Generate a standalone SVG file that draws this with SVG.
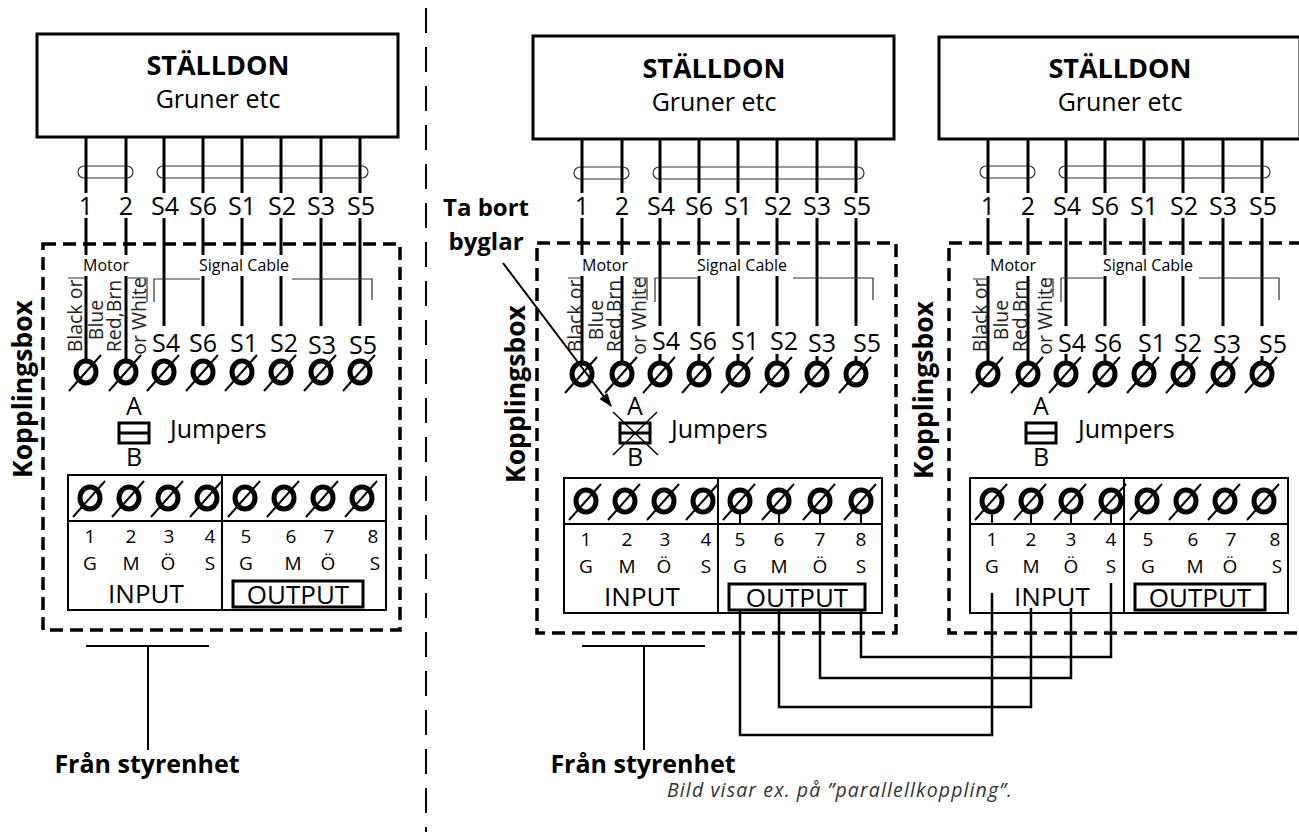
<svg xmlns="http://www.w3.org/2000/svg" width="1299" height="832" viewBox="0 0 1299 832">
<style>
text{font-family:"Open Sans",Lato,"DejaVu Sans",sans-serif;fill:#000}
.t25{font-size:25px}
.t27{font-size:27px}
.c{text-anchor:middle}
.b{font-weight:bold}
.box{fill:#fff;stroke:#000;stroke-width:3}
.w{fill:none;stroke:#000;stroke-width:3}
.thin{fill:none;stroke:#333;stroke-width:1.2}
.dash{fill:none;stroke:#000;stroke-width:3.5;stroke-dasharray:13 7}
.blk{fill:#fff;stroke:#000;stroke-width:2}
.ln{fill:none;stroke:#000;stroke-width:2}
.ob{fill:none;stroke:#000;stroke-width:3}
.rot{font-size:19.5px;text-anchor:middle;fill:#222}
.small{font-size:16px;text-anchor:middle}
.num{font-size:19px;text-anchor:middle}
.io{font-size:26px;text-anchor:middle}
.wire{fill:none;stroke:#000;stroke-width:2.5}
.sep{fill:none;stroke:#000;stroke-width:2;stroke-dasharray:25 14}
.kb{font-size:26.5px;font-weight:bold;text-anchor:middle}
.note{font-size:24px;font-weight:bold;text-anchor:middle}
.cap{font-size:19.5px;font-style:italic;fill:#333}
</style>
<defs>
<g id="term"><ellipse rx="10" ry="11" fill="none" stroke="#000" stroke-width="5"/><line x1="-17" y1="19" x2="15" y2="-17" stroke="#000" stroke-width="2"/></g>
<marker id="ah" viewBox="0 0 10 10" refX="9" refY="5" markerWidth="7" markerHeight="7" orient="auto" markerUnits="strokeWidth"><path d="M0 1.5L10 5L0 8.5z" fill="#000"/></marker>
</defs>

<line class="sep" x1="426" y1="8" x2="426" y2="832"/>

<!-- LEFT PANEL -->
<g id="panel-left">
<g id="actuator-1"><rect class="box" x="37" y="34" width="361" height="103"/><text class="t27 c b" x="218" y="75">STÄLLDON</text><text class="t25 c" x="218" y="108">Gruner etc</text></g>
<g id="cable-1">
<rect class="thin" x="78" y="166" width="55" height="12" rx="6"/>
<rect class="thin" x="157" y="166" width="211" height="12" rx="6"/>
<path class="w" d="M86 137V193M86 218V255M86 276V360M126 137V193M126 218V255M126 276V360M164 137V193M164 218V326M203 137V193M203 218V255M203 276V326M242 137V193M242 218V255M242 276V326M281 137V193M281 218V255M281 276V326M321 137V193M321 218V326M360 137V193M360 218V326"/>
<text class="t25 c" x="86" y="215">1</text><text class="t25 c" x="126" y="215">2</text><text class="t25 c" x="165" y="215">S4</text><text class="t25 c" x="203" y="215">S6</text><text class="t25 c" x="242" y="215">S1</text><text class="t25 c" x="282" y="215">S2</text><text class="t25 c" x="321" y="215">S3</text><text class="t25 c" x="361" y="215">S5</text>
</g>
<g id="kopplingsbox-1">
<rect class="dash" x="43" y="244" width="357" height="386"/>
<text class="kb" transform="translate(32,389) rotate(-90)">Kopplingsbox</text>
<text class="small" x="106" y="271">Motor</text>
<text class="small" x="244" y="271">Signal Cable</text>
<path class="thin" d="M68 278H86M128 278H147V302M154 302V279H200M292 279H372V300"/>
<text class="rot" transform="translate(82,316) rotate(-90)">Black or</text>
<text class="rot" transform="translate(103,320) rotate(-90)">Blue</text>
<text class="rot" transform="translate(121,316) rotate(-90)">Red,Brn</text>
<text class="rot" transform="translate(146,316) rotate(-90)">or White</text>
<text class="t25 c" x="166" y="352">S4</text><text class="t25 c" x="203" y="352">S6</text><text class="t25 c" x="244" y="352">S1</text><text class="t25 c" x="284" y="352">S2</text><text class="t25 c" x="322" y="354">S3</text><text class="t25 c" x="363" y="354">S5</text>
<use href="#term" x="86" y="372"/><use href="#term" x="126" y="372"/><use href="#term" x="164" y="372"/><use href="#term" x="203" y="372"/><use href="#term" x="242" y="372"/><use href="#term" x="281" y="372"/><use href="#term" x="321" y="372"/><use href="#term" x="360" y="372"/>
<g id="jumper-1">
<text class="t25 c" x="134" y="415">A</text>
<rect x="119" y="423" width="30" height="20" fill="#fff" stroke="#000" stroke-width="3"/><line x1="119" y1="433" x2="149" y2="433" stroke="#000" stroke-width="3"/>
<text class="t25 c" x="134" y="466">B</text>
<text class="t25" x="170" y="438">Jumpers</text>
</g>
<g id="block-1">
<rect class="blk" x="68" y="475" width="318" height="135"/>
<path class="ln" d="M222 475V610M68 521H386"/>
<use href="#term" x="90" y="498"/><use href="#term" x="129" y="498"/><use href="#term" x="168" y="498"/><use href="#term" x="207" y="498"/><use href="#term" x="245" y="498"/><use href="#term" x="284" y="498"/><use href="#term" x="323" y="498"/><use href="#term" x="362" y="498"/>
<text class="num" x="90" y="543">1</text><text class="num" x="131" y="543">2</text><text class="num" x="169" y="543">3</text><text class="num" x="210" y="543">4</text><text class="num" x="246" y="543">5</text><text class="num" x="291" y="543">6</text><text class="num" x="329" y="543">7</text><text class="num" x="373" y="543">8</text>
<text class="num" x="90" y="570">G</text><text class="num" x="131" y="570">M</text><text class="num" x="168" y="570">Ö</text><text class="num" x="210" y="570">S</text><text class="num" x="246" y="570">G</text><text class="num" x="293" y="570">M</text><text class="num" x="328" y="570">Ö</text><text class="num" x="375" y="570">S</text>
<text class="io" x="146" y="603">INPUT</text>
<rect class="ob" x="233" y="581" width="130" height="26"/>
<text class="io" x="298" y="604">OUTPUT</text>
</g>
</g>
<g id="from-1">
<path class="ln" d="M86 646H209M148 646V750"/>
<text class="t25 c b" x="147" y="773">Från styrenhet</text>
</g>
</g>

<!-- MIDDLE PANEL -->
<g id="panel-middle" transform="translate(496,0)">
<g id="actuator-2"><rect class="box" x="37" y="36" width="361" height="103"/><text class="t27 c b" x="218" y="78">STÄLLDON</text><text class="t25 c" x="218" y="111">Gruner etc</text></g>
<g id="cable-2">
<rect class="thin" x="78" y="167" width="55" height="12" rx="6"/>
<rect class="thin" x="157" y="167" width="211" height="12" rx="6"/>
<path class="w" d="M86 139V193M86 218V255M86 276V362M126 139V193M126 218V255M126 276V362M164 139V193M164 218V326M203 139V193M203 218V255M203 276V326M242 139V193M242 218V255M242 276V326M281 139V193M281 218V255M281 276V326M321 139V193M321 218V326M360 139V193M360 218V326M164 354V363M203 354V363M242 354V363M281 354V363M321 356V363M360 356V363"/>
<text class="t25 c" x="86" y="215">1</text><text class="t25 c" x="126" y="215">2</text><text class="t25 c" x="165" y="215">S4</text><text class="t25 c" x="203" y="215">S6</text><text class="t25 c" x="242" y="215">S1</text><text class="t25 c" x="282" y="215">S2</text><text class="t25 c" x="321" y="215">S3</text><text class="t25 c" x="361" y="215">S5</text>
</g>
<g id="kopplingsbox-2">
<rect class="dash" x="41" y="243" width="359" height="390"/>
<text class="kb" transform="translate(29,394) rotate(-90)">Kopplingsbox</text>
<text class="small" x="109" y="271">Motor</text>
<text class="small" x="246" y="271">Signal Cable</text>
<path class="thin" d="M72 278H86M137 278H151V300M159 302V278H201M297 278H377V300"/>
<text class="rot" transform="translate(86,316) rotate(-90)">Black or</text>
<text class="rot" transform="translate(107,320) rotate(-90)">Blue</text>
<text class="rot" transform="translate(125,316) rotate(-90)">Red,Brn</text>
<text class="rot" transform="translate(150,316) rotate(-90)">or White</text>
<text class="t25 c" x="170" y="350">S4</text><text class="t25 c" x="207" y="350">S6</text><text class="t25 c" x="249" y="350">S1</text><text class="t25 c" x="288" y="350">S2</text><text class="t25 c" x="326" y="352">S3</text><text class="t25 c" x="371" y="352">S5</text>
<use href="#term" x="86" y="374"/><use href="#term" x="126" y="374"/><use href="#term" x="164" y="374"/><use href="#term" x="203" y="374"/><use href="#term" x="242" y="374"/><use href="#term" x="281" y="374"/><use href="#term" x="321" y="374"/><use href="#term" x="360" y="374"/>
<g id="jumper-2">
<text class="t25 c" x="139" y="415">A</text>
<rect x="124" y="423" width="30" height="20" fill="#fff" stroke="#000" stroke-width="3"/><line x1="124" y1="433" x2="154" y2="433" stroke="#000" stroke-width="3"/>
<text class="t25 c" x="139" y="466">B</text>
<text class="t25" x="175" y="438">Jumpers</text>
<path d="M117 412L162 455M161 412L117 455" fill="none" stroke="#000" stroke-width="1.5"/>
</g>
<g id="block-2" transform="translate(0,3)">
<rect class="blk" x="68" y="475" width="318" height="135"/>
<path class="ln" d="M222 475V610M68 521H386M244 510V521M283 510V521M324 510V521M365 510V521"/>
<use href="#term" x="90" y="498"/><use href="#term" x="129" y="498"/><use href="#term" x="168" y="498"/><use href="#term" x="207" y="498"/><use href="#term" x="244" y="498"/><use href="#term" x="283" y="498"/><use href="#term" x="324" y="498"/><use href="#term" x="365" y="498"/>
<text class="num" x="90" y="543">1</text><text class="num" x="131" y="543">2</text><text class="num" x="169" y="543">3</text><text class="num" x="210" y="543">4</text><text class="num" x="244" y="543">5</text><text class="num" x="283" y="543">6</text><text class="num" x="324" y="543">7</text><text class="num" x="365" y="543">8</text>
<text class="num" x="90" y="570">G</text><text class="num" x="131" y="570">M</text><text class="num" x="168" y="570">Ö</text><text class="num" x="210" y="570">S</text><text class="num" x="244" y="570">G</text><text class="num" x="283" y="570">M</text><text class="num" x="324" y="570">Ö</text><text class="num" x="365" y="570">S</text>
<text class="io" x="146" y="603">INPUT</text>
<rect class="ob" x="233" y="581" width="136" height="26"/>
<text class="io" x="301" y="604">OUTPUT</text>
</g>
</g>
<g id="from-2">
<path class="ln" d="M86 646H209M148 646V750"/>
<text class="t25 c b" x="147" y="773">Från styrenhet</text>
</g>
</g>

<!-- RIGHT PANEL -->
<g id="panel-right" transform="translate(902,0)">
<g id="actuator-3"><rect class="box" x="37" y="37" width="361" height="102"/><text class="t27 c b" x="218" y="78">STÄLLDON</text><text class="t25 c" x="218" y="111">Gruner etc</text></g>
<g id="cable-3">
<rect class="thin" x="78" y="166" width="55" height="12" rx="6"/>
<rect class="thin" x="157" y="166" width="211" height="12" rx="6"/>
<path class="w" d="M86 139V193M86 218V255M86 276V362M126 139V193M126 218V255M126 276V362M164 139V193M164 218V326M203 139V193M203 218V255M203 276V326M242 139V193M242 218V255M242 276V326M281 139V193M281 218V255M281 276V326M321 139V193M321 218V326M360 139V193M360 218V326M164 354V363M203 354V363M242 354V363M281 354V363M321 356V363M360 356V363"/>
<text class="t25 c" x="86" y="215">1</text><text class="t25 c" x="126" y="215">2</text><text class="t25 c" x="165" y="215">S4</text><text class="t25 c" x="203" y="215">S6</text><text class="t25 c" x="242" y="215">S1</text><text class="t25 c" x="282" y="215">S2</text><text class="t25 c" x="321" y="215">S3</text><text class="t25 c" x="361" y="215">S5</text>
</g>
<g id="kopplingsbox-3">
<rect class="dash" x="47" y="243" width="359" height="390"/>
<text class="kb" transform="translate(31,390) rotate(-90)">Kopplingsbox</text>
<text class="small" x="111" y="271">Motor</text>
<text class="small" x="246" y="271">Signal Cable</text>
<path class="thin" d="M71 279H86M140 279H151V297M159 302V278H201M297 278H377V300"/>
<text class="rot" transform="translate(85,316) rotate(-90)">Black or</text>
<text class="rot" transform="translate(106,320) rotate(-90)">Blue</text>
<text class="rot" transform="translate(125,316) rotate(-90)">Red,Brn</text>
<text class="rot" transform="translate(150,316) rotate(-90)">or White</text>
<text class="t25 c" x="170" y="352">S4</text><text class="t25 c" x="206" y="352">S6</text><text class="t25 c" x="250" y="352">S1</text><text class="t25 c" x="286" y="352">S2</text><text class="t25 c" x="325" y="353">S3</text><text class="t25 c" x="371" y="353">S5</text>
<use href="#term" x="86" y="374"/><use href="#term" x="126" y="374"/><use href="#term" x="164" y="374"/><use href="#term" x="203" y="374"/><use href="#term" x="242" y="374"/><use href="#term" x="281" y="374"/><use href="#term" x="321" y="374"/><use href="#term" x="360" y="374"/>
<g id="jumper-3">
<text class="t25 c" x="139" y="415">A</text>
<rect x="124" y="423" width="30" height="20" fill="#fff" stroke="#000" stroke-width="3"/><line x1="124" y1="433" x2="154" y2="433" stroke="#000" stroke-width="3"/>
<text class="t25 c" x="139" y="466">B</text>
<text class="t25" x="176" y="438">Jumpers</text>
</g>
<g id="block-3" transform="translate(0,3)">
<rect class="blk" x="68" y="475" width="318" height="135"/>
<path class="ln" d="M222 475V610M68 521H386M90 510V521M129 510V521M169 510V521M209 510V521"/>
<use href="#term" x="90" y="498"/><use href="#term" x="129" y="498"/><use href="#term" x="169" y="498"/><use href="#term" x="209" y="498"/><use href="#term" x="245" y="498"/><use href="#term" x="284" y="498"/><use href="#term" x="323" y="498"/><use href="#term" x="362" y="498"/>
<text class="num" x="90" y="543">1</text><text class="num" x="129" y="543">2</text><text class="num" x="169" y="543">3</text><text class="num" x="209" y="543">4</text><text class="num" x="246" y="543">5</text><text class="num" x="291" y="543">6</text><text class="num" x="329" y="543">7</text><text class="num" x="373" y="543">8</text>
<text class="num" x="90" y="570">G</text><text class="num" x="129" y="570">M</text><text class="num" x="169" y="570">Ö</text><text class="num" x="209" y="570">S</text><text class="num" x="246" y="570">G</text><text class="num" x="293" y="570">M</text><text class="num" x="328" y="570">Ö</text><text class="num" x="375" y="570">S</text>
<text class="io" x="150" y="603">INPUT</text>
<rect class="ob" x="233" y="581" width="130" height="26"/>
<text class="io" x="298" y="604">OUTPUT</text>
</g>
</g>
</g>

<!-- CONNECTORS -->
<g id="connectors">
<path class="wire" d="M740 610V735H992V593M779 610V707H1031V608M820 610V678H1071V608M861 610V657H1111V583"/>
<line x1="503" y1="263" x2="611" y2="406" stroke="#000" stroke-width="2" marker-end="url(#ah)"/>
</g>

<g id="note">
<text class="note" x="486" y="216">Ta bort</text>
<text class="note" x="486" y="250">byglar</text>
</g>
<text class="cap" x="667" y="797" textLength="345" lengthAdjust="spacing">Bild visar ex. på ”parallellkoppling”.</text>
</svg>
